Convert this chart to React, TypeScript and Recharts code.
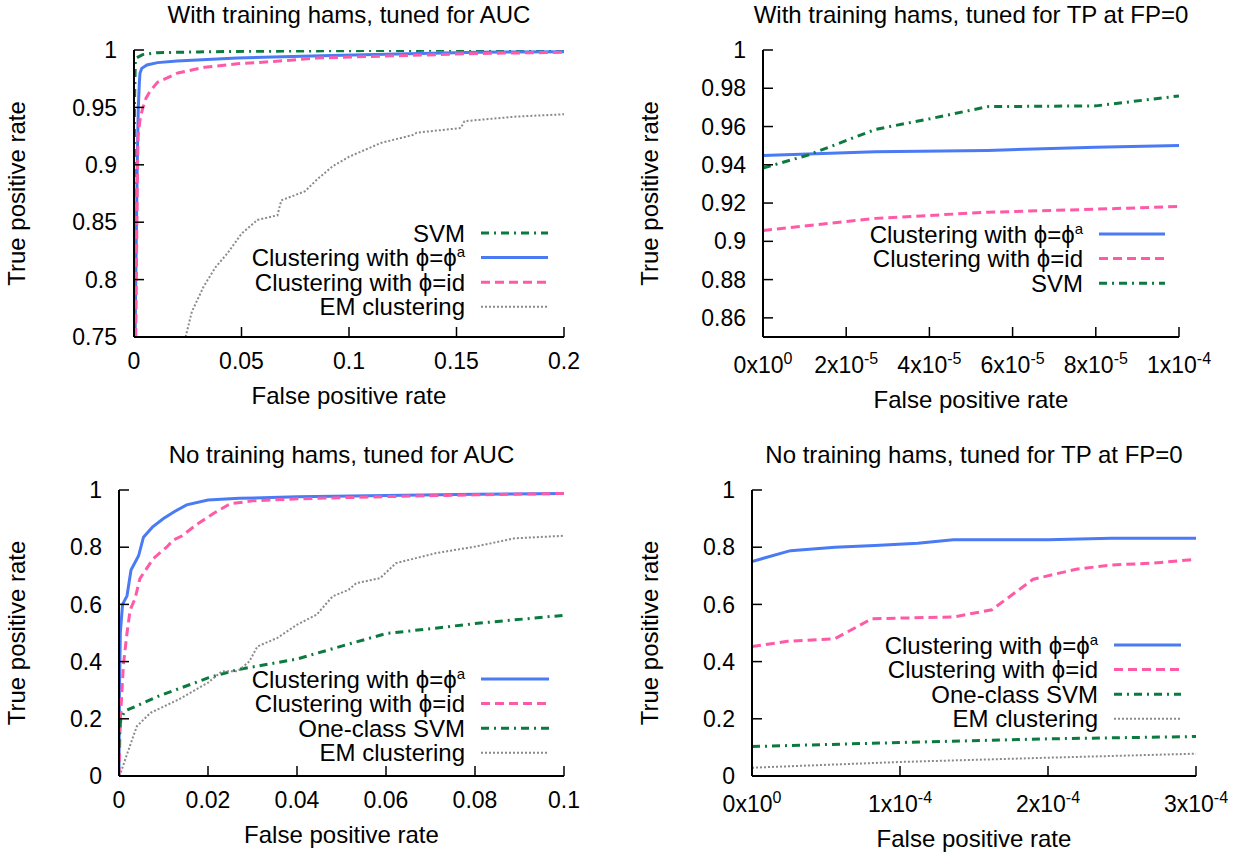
import React from 'react'
import { Line, LineChart, XAxis, YAxis } from 'recharts'

const FONT = '"Liberation Sans", Arial, sans-serif'
const BLUE = '#4a7bf5'
const PINK = '#ff5aa8'
const GREEN = '#0b7a3e'
const GREY = '#8a8a8a'

// with training hams, tuned for AUC
const hamsAucSvmX = [0, 0.0002, 0.0006, 0.001, 0.004, 0.011, 0.03, 0.048, 0.1, 0.15, 0.2]
const hamsAucSvmY = [0.75, 0.95, 0.99, 0.993, 0.996, 0.9977, 0.9983, 0.9988, 0.9994, 0.9998, 1.0]
const hamsAucPhiAX = [0.0005, 0.0015, 0.002, 0.0025, 0.0028, 0.0036, 0.006, 0.011, 0.02, 0.048, 0.087, 0.122, 0.16, 0.2]
const hamsAucPhiAY = [0.75, 0.9, 0.95, 0.972, 0.98, 0.984, 0.987, 0.989, 0.9905, 0.993, 0.995, 0.9965, 0.998, 0.9985]
const hamsAucPhiIdX = [0.0008, 0.0015, 0.0019, 0.003, 0.0042, 0.0056, 0.0074, 0.011, 0.0204, 0.033, 0.048, 0.065, 0.085, 0.122, 0.16, 0.2]
const hamsAucPhiIdY = [0.75, 0.88, 0.925, 0.942, 0.95, 0.958, 0.964, 0.972, 0.98, 0.985, 0.988, 0.99, 0.993, 0.995, 0.997, 0.998]
const hamsAucEmX = [0.024, 0.0269, 0.0324, 0.038, 0.0435, 0.05, 0.0574, 0.0667, 0.0685, 0.0796, 0.085, 0.0926, 0.1, 0.1148, 0.1296, 0.1315, 0.152, 0.1537, 0.1778, 0.2]
const hamsAucEmY = [0.75, 0.772, 0.794, 0.811, 0.823, 0.84, 0.852, 0.856, 0.869, 0.877, 0.887, 0.899, 0.907, 0.919, 0.926, 0.928, 0.932, 0.938, 0.942, 0.944]

// with training hams, tuned for TP at FP=0
const hamsTpPhiAX = [0, 2.7e-5, 5.4e-5, 8e-5, 1e-4]
const hamsTpPhiAY = [0.9449, 0.9468, 0.9475, 0.9492, 0.9501]
const hamsTpPhiIdX = [0, 2.7e-5, 5.4e-5, 8e-5, 1e-4]
const hamsTpPhiIdY = [0.9057, 0.912, 0.9152, 0.9168, 0.9182]
const hamsTpSvmX = [0, 1.1e-5, 2.7e-5, 4e-5, 5.4e-5, 8e-5, 1e-4]
const hamsTpSvmY = [0.9383, 0.9452, 0.9585, 0.964, 0.9704, 0.9708, 0.976]

// no training hams, tuned for AUC
const noHamsAucPhiAX = [0, 0.0001, 0.0003, 0.0008, 0.0018, 0.0027, 0.0044, 0.0055, 0.0075, 0.01, 0.0125, 0.0152, 0.02, 0.027, 0.04, 0.06, 0.08, 0.1]
const noHamsAucPhiAY = [0, 0.3, 0.5, 0.6, 0.63, 0.72, 0.77, 0.835, 0.87, 0.9, 0.925, 0.948, 0.965, 0.971, 0.976, 0.981, 0.985, 0.988]
const noHamsAucPhiIdX = [0, 0.0003, 0.001, 0.0018, 0.0025, 0.0036, 0.0047, 0.0077, 0.0107, 0.0122, 0.0142, 0.0175, 0.02, 0.0212, 0.025, 0.03, 0.04, 0.06, 0.08, 0.1]
const noHamsAucPhiIdY = [0, 0.2, 0.39, 0.5, 0.58, 0.62, 0.69, 0.76, 0.8, 0.825, 0.84, 0.88, 0.905, 0.918, 0.952, 0.962, 0.969, 0.977, 0.983, 0.988]
const noHamsAucOcsvmX = [0, 0.0001, 0.0004, 0.0013, 0.0089, 0.02, 0.0267, 0.04, 0.0511, 0.06, 0.0711, 0.08, 0.1]
const noHamsAucOcsvmY = [0.1, 0.15, 0.198, 0.227, 0.279, 0.343, 0.372, 0.409, 0.459, 0.498, 0.517, 0.533, 0.562]
const noHamsAucEmX = [0, 0.0004, 0.0018, 0.004, 0.0071, 0.0133, 0.02, 0.0231, 0.0267, 0.0293, 0.0311, 0.0356, 0.04, 0.0444, 0.048, 0.0516, 0.0533, 0.0587, 0.0622, 0.0711, 0.08, 0.0889, 0.1]
const noHamsAucEmY = [0, 0.012, 0.076, 0.174, 0.221, 0.267, 0.326, 0.366, 0.366, 0.401, 0.453, 0.483, 0.529, 0.564, 0.628, 0.651, 0.674, 0.692, 0.744, 0.779, 0.802, 0.831, 0.84]

// no training hams, tuned for TP at FP=0
const noHamsTpPhiAX = [0, 2.6e-5, 5.6e-5, 8.3e-5, 1.12e-4, 1.36e-4, 2e-4, 2.43e-4, 3e-4]
const noHamsTpPhiAY = [0.75, 0.788, 0.8, 0.806, 0.814, 0.826, 0.826, 0.831, 0.831]
const noHamsTpPhiIdX = [0, 2.4e-5, 5.6e-5, 8.1e-5, 1.36e-4, 1.62e-4, 1.9e-4, 2.19e-4, 2.43e-4, 2.7e-4, 3e-4]
const noHamsTpPhiIdY = [0.453, 0.471, 0.48, 0.55, 0.556, 0.581, 0.688, 0.723, 0.738, 0.744, 0.758]
const noHamsTpOcsvmX = [0, 1e-4, 2e-4, 3e-4]
const noHamsTpOcsvmY = [0.103, 0.117, 0.13, 0.138]
const noHamsTpEmX = [0, 1e-4, 2e-4, 3e-4]
const noHamsTpEmY = [0.029, 0.049, 0.064, 0.078]

// ticks
const aucHamsXTicks = [0, 0.05, 0.1, 0.15, 0.2]
const aucHamsXLabels = ['0', '0.05', '0.1', '0.15', '0.2']
const aucHamsYTicks = [0.75, 0.8, 0.85, 0.9, 0.95, 1]
const aucHamsYLabels = ['0.75', '0.8', '0.85', '0.9', '0.95', '1']
const tpHamsXTicks = [0, 2e-5, 4e-5, 6e-5, 8e-5, 1e-4]
const tpHamsXLabels = [['0', '0'], ['2', '-5'], ['4', '-5'], ['6', '-5'], ['8', '-5'], ['1', '-4']]
const tpHamsYTicks = [0.86, 0.88, 0.9, 0.92, 0.94, 0.96, 0.98, 1]
const tpHamsYLabels = ['0.86', '0.88', '0.9', '0.92', '0.94', '0.96', '0.98', '1']
const aucNoHamsXTicks = [0, 0.02, 0.04, 0.06, 0.08, 0.1]
const aucNoHamsXLabels = ['0', '0.02', '0.04', '0.06', '0.08', '0.1']
const rateTicks = [0, 0.2, 0.4, 0.6, 0.8, 1]
const rateLabels = ['0', '0.2', '0.4', '0.6', '0.8', '1']
const tpNoHamsXTicks = [0, 1e-4, 2e-4, 3e-4]
const tpNoHamsXLabels = [['0', '0'], ['1', '-4'], ['2', '-4'], ['3', '-4']]

const toPoints = (xs: number[], ys: number[]) => xs.map((x, i) => ({ x, y: ys[i] }))

type Style = { color: string; dash?: string; width: number }
const solid: Style = { color: BLUE, width: 3 }
const dashed: Style = { color: PINK, dash: '9 5', width: 3 }
const dashDot: Style = { color: GREEN, dash: '8 5 2 5', width: 3 }
const dotted: Style = { color: GREY, dash: '2 2', width: 2 }

type Series = { name: string; sup?: string; style: Style; data: { x: number; y: number }[] }

const PHI = 'Clustering with \u03d5=\u03d5'
const PHI_ID = 'Clustering with \u03d5=id'

const panels = [
  {
    title: 'With training hams, tuned for AUC',
    box: { l: 134, r: 564, t: 50, b: 337 },
    xDomain: [0, 0.2], yDomain: [0.75, 1],
    xTicks: aucHamsXTicks, xLabels: aucHamsXLabels as any[], sci: false,
    yTicks: aucHamsYTicks, yLabels: aucHamsYLabels,
    legend: { textRight: 465, lineX1: 481, lineX2: 548, y0: 233 },
    yTitleX: 25,
    series: [
      { name: 'SVM', style: dashDot, data: toPoints(hamsAucSvmX, hamsAucSvmY) },
      { name: PHI, sup: 'a', style: solid, data: toPoints(hamsAucPhiAX, hamsAucPhiAY) },
      { name: PHI_ID, style: dashed, data: toPoints(hamsAucPhiIdX, hamsAucPhiIdY) },
      { name: 'EM clustering', style: dotted, data: toPoints(hamsAucEmX, hamsAucEmY) },
    ] as Series[],
  },
  {
    title: 'With training hams, tuned for TP at FP=0',
    box: { l: 763, r: 1179, t: 50, b: 337 },
    xDomain: [0, 1e-4], yDomain: [0.85, 1],
    xTicks: tpHamsXTicks, xLabels: tpHamsXLabels as any[], sci: true,
    yTicks: tpHamsYTicks, yLabels: tpHamsYLabels,
    legend: { textRight: 1083, lineX1: 1099, lineX2: 1165, y0: 234 },
    yTitleX: 658,
    series: [
      { name: PHI, sup: 'a', style: solid, data: toPoints(hamsTpPhiAX, hamsTpPhiAY) },
      { name: PHI_ID, style: dashed, data: toPoints(hamsTpPhiIdX, hamsTpPhiIdY) },
      { name: 'SVM', style: dashDot, data: toPoints(hamsTpSvmX, hamsTpSvmY) },
    ] as Series[],
  },
  {
    title: 'No training hams, tuned for AUC',
    box: { l: 119, r: 564, t: 490, b: 776 },
    xDomain: [0, 0.1], yDomain: [0, 1],
    xTicks: aucNoHamsXTicks, xLabels: aucNoHamsXLabels as any[], sci: false,
    yTicks: rateTicks, yLabels: rateLabels,
    legend: { textRight: 465, lineX1: 481, lineX2: 549, y0: 679 },
    yTitleX: 25,
    series: [
      { name: PHI, sup: 'a', style: solid, data: toPoints(noHamsAucPhiAX, noHamsAucPhiAY) },
      { name: PHI_ID, style: dashed, data: toPoints(noHamsAucPhiIdX, noHamsAucPhiIdY) },
      { name: 'One-class SVM', style: dashDot, data: toPoints(noHamsAucOcsvmX, noHamsAucOcsvmY) },
      { name: 'EM clustering', style: dotted, data: toPoints(noHamsAucEmX, noHamsAucEmY) },
    ] as Series[],
  },
  {
    title: 'No training hams, tuned for TP at FP=0',
    box: { l: 752, r: 1196, t: 490, b: 776 },
    xDomain: [0, 3e-4], yDomain: [0, 1],
    xTicks: tpNoHamsXTicks, xLabels: tpNoHamsXLabels as any[], sci: true,
    yTicks: rateTicks, yLabels: rateLabels,
    legend: { textRight: 1098, lineX1: 1114, lineX2: 1181, y0: 645 },
    yTitleX: 658,
    series: [
      { name: PHI, sup: 'a', style: solid, data: toPoints(noHamsTpPhiAX, noHamsTpPhiAY) },
      { name: PHI_ID, style: dashed, data: toPoints(noHamsTpPhiIdX, noHamsTpPhiIdY) },
      { name: 'One-class SVM', style: dashDot, data: toPoints(noHamsTpOcsvmX, noHamsTpOcsvmY) },
      { name: 'EM clustering', style: dotted, data: toPoints(noHamsTpEmX, noHamsTpEmY) },
    ] as Series[],
  },
]

const PAD_L = 120
const PAD_R = 120
const PAD_T = 50
const PAD_B = 100
const frame = { stroke: '#000', strokeWidth: 2 }
const tickStroke = { stroke: '#000', strokeWidth: 1.5 }

function Panel({ p }: { p: (typeof panels)[number] }) {
  const w = p.box.r - p.box.l
  const h = p.box.b - p.box.t
  const sciTick = (props: any) => {
    const { x, y, index } = props
    const [m, e] = p.xLabels[index]
    return (
      <text x={x} y={y + 20} textAnchor="middle" fontSize={23} fontFamily={FONT} fill="#000">
        {m}x10<tspan dy={-9} fontSize={16}>{e}</tspan>
      </text>
    )
  }
  return (
    <div style={{ position: 'absolute', left: p.box.l - PAD_L, top: p.box.t - PAD_T }}>
      <LineChart
        width={w + PAD_L + PAD_R}
        height={h + PAD_T + PAD_B}
        margin={{ top: PAD_T, right: PAD_R, bottom: 0, left: 0 }}
      >
        <XAxis
          type="number" dataKey="x" domain={p.xDomain} ticks={p.xTicks} allowDataOverflow
          height={PAD_B} tickSize={-10} tickMargin={26} axisLine={frame} tickLine={tickStroke}
          tick={p.sci ? sciTick : { fontSize: 23, fill: '#000', fontFamily: FONT }}
          tickFormatter={(v: number) => p.xLabels[p.xTicks.indexOf(v)] as string}
        />
        <XAxis
          xAxisId="top" orientation="top" type="number" dataKey="x" domain={p.xDomain} ticks={p.xTicks}
          allowDataOverflow height={0} tickSize={-10} axisLine={frame} tickLine={tickStroke} tick={false}
        />
        <YAxis
          type="number" domain={p.yDomain} ticks={p.yTicks} allowDataOverflow width={PAD_L}
          tickSize={-10} tickMargin={27} axisLine={frame} tickLine={tickStroke}
          tick={{ fontSize: 23, fill: '#000', fontFamily: FONT }}
          tickFormatter={(v: number) => p.yLabels[p.yTicks.indexOf(v)]}
        />
        <YAxis
          yAxisId="right" orientation="right" type="number" domain={p.yDomain} ticks={p.yTicks}
          allowDataOverflow width={0} tickSize={-10} axisLine={frame} tickLine={tickStroke} tick={false}
        />
        {p.series.map((s) => (
          <Line
            key={s.name + (s.sup ?? '')}
            data={s.data}
            dataKey="y"
            type="linear"
            stroke={s.style.color}
            strokeWidth={s.style.width}
            strokeDasharray={s.style.dash}
            dot={false}
            activeDot={false}
            isAnimationActive={false}
          />
        ))}
      </LineChart>
    </div>
  )
}

function Overlay() {
  return (
    <svg
      width={1242}
      height={852}
      style={{ position: 'absolute', left: 0, top: 0, pointerEvents: 'none' }}
      fontFamily={FONT}
    >
      {panels.map((p, i) => {
        const cx = (p.box.l + p.box.r) / 2
        const cy = (p.box.t + p.box.b) / 2
        return (
          <g key={i}>
            <text x={cx} y={p.box.t - 27} textAnchor="middle" fontSize={24}>{p.title}</text>
            <text x={cx} y={p.box.b + 67 + (p.sci ? 4 : 0)} textAnchor="middle" fontSize={24}>
              False positive rate
            </text>
            <text transform={`translate(${p.yTitleX}, ${cy}) rotate(-90)`} textAnchor="middle" fontSize={24}>
              True positive rate
            </text>
            {p.series.map((s, j) => {
              const y = p.legend.y0 + j * 24.6
              return (
                <g key={j}>
                  <text x={p.legend.textRight} y={y + 8.5} textAnchor="end" fontSize={24}>
                    {s.name}
                    {s.sup && <tspan dy={-9} fontSize={15}>{s.sup}</tspan>}
                  </text>
                  <line
                    x1={p.legend.lineX1} x2={p.legend.lineX2} y1={y} y2={y}
                    stroke={s.style.color} strokeWidth={s.style.width} strokeDasharray={s.style.dash}
                  />
                </g>
              )
            })}
          </g>
        )
      })}
    </svg>
  )
}

export default function App() {
  return (
    <div style={{ position: 'absolute', left: 0, top: 0, width: 1242, height: 852, background: '#fff' }}>
      {panels.map((p, i) => (
        <Panel key={i} p={p} />
      ))}
      <Overlay />
    </div>
  )
}
